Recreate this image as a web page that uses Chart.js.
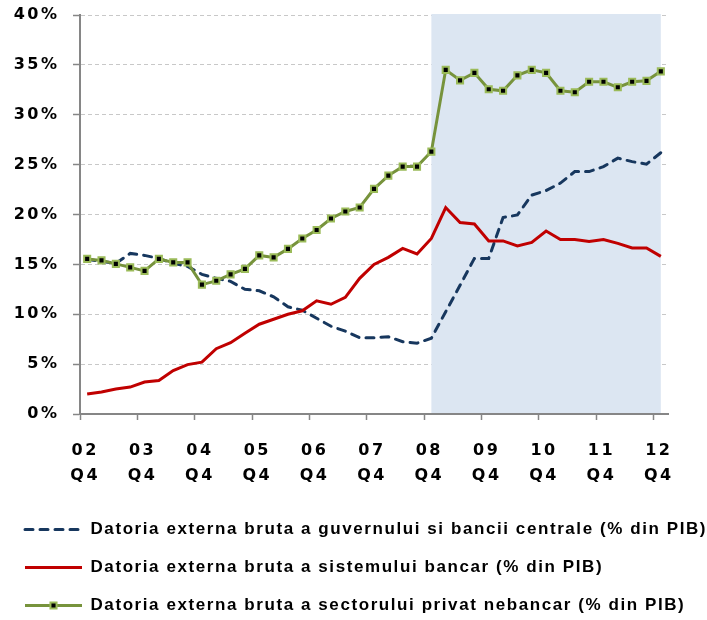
<!DOCTYPE html>
<html>
<head>
<meta charset="utf-8">
<script src="https://cdn.jsdelivr.net/npm/chart.js@4.4.0/dist/chart.umd.min.js"></script>
<style>
html,body{margin:0;padding:0;background:#ffffff;}
canvas{display:block;}
</style>
</head>
<body>
<canvas id="c" width="707" height="620"></canvas>
<script>
// ---- data ----
const quarters = [
  '02 Q4',
  '03 Q1','03 Q2','03 Q3','03 Q4',
  '04 Q1','04 Q2','04 Q3','04 Q4',
  '05 Q1','05 Q2','05 Q3','05 Q4',
  '06 Q1','06 Q2','06 Q3','06 Q4',
  '07 Q1','07 Q2','07 Q3','07 Q4',
  '08 Q1','08 Q2','08 Q3','08 Q4',
  '09 Q1','09 Q2','09 Q3','09 Q4',
  '10 Q1','10 Q2','10 Q3','10 Q4',
  '11 Q1','11 Q2','11 Q3','11 Q4',
  '12 Q1','12 Q2','12 Q3','12 Q4'
];

const govDebt = [
  15.5, 15.3, 15.1, 16.1, 15.9, 15.6, 15.1, 14.8, 14.0, 13.6,
  13.3, 12.5, 12.35, 11.75, 10.75, 10.4, 9.6, 8.8, 8.3, 7.65,
  7.65, 7.75, 7.25, 7.1, 7.6, 10.25, 12.9, 15.6, 15.6, 19.7,
  19.95, 21.95, 22.4, 23.15, 24.3, 24.3, 24.8, 25.65, 25.3, 25.05,
  26.2
];

const bankDebt = [
  2.0, 2.2, 2.5, 2.7, 3.2, 3.35, 4.35, 4.95, 5.2, 6.55,
  7.15, 8.1, 9.0, 9.5, 10.0, 10.35, 11.35, 11.0, 11.7, 13.6,
  15.0, 15.7, 16.6, 16.05, 17.6, 20.7, 19.2, 19.05, 17.35, 17.35,
  16.85, 17.2, 18.35, 17.5, 17.5, 17.3, 17.5, 17.1, 16.65, 16.65,
  15.8
];

const privateDebt = [
  15.55, 15.4, 15.05, 14.7, 14.35, 15.55, 15.2, 15.2, 12.97, 13.35,
  14.0, 14.55, 15.9, 15.7, 16.55, 17.6, 18.45, 19.6, 20.3, 20.7,
  22.57, 23.9, 24.8, 24.8, 26.3, 34.5, 33.45, 34.2, 32.55, 32.4,
  33.95, 34.5, 34.2, 32.4, 32.25, 33.3, 33.3, 32.75, 33.3, 33.4,
  34.35
];

const seriesNames = [
  'Datoria externa bruta a guvernului si bancii centrale (% din PIB)',
  'Datoria externa bruta a sistemului bancar (% din PIB)',
  'Datoria externa bruta a sectorului privat nebancar (% din PIB)'
];

const yMin = 0, yMax = 40, yStep = 5;
const shadeFrom = '08 Q4';
const shadeTo = '12 Q4';

// ---- plugins ----
const shadePlugin = {
  id: 'shade',
  beforeDatasetsDraw(chart) {
    const {ctx, chartArea: a, scales: {x}} = chart;
    const x0 = x.getPixelForValue(quarters.indexOf(shadeFrom));
    const x1 = x.getPixelForValue(quarters.indexOf(shadeTo));
    ctx.save();
    ctx.fillStyle = '#DCE6F2';
    ctx.fillRect(x0, a.top - 1, x1 - x0, a.bottom - a.top);
    ctx.restore();
  }
};

const LEGEND_SPACING = '1.58px';
const AXIS_SPACING = '2.5px';

const spacingPlugin = {
  id: 'spacing',
  beforeLayout(chart) { chart.ctx.letterSpacing = LEGEND_SPACING; },
  afterLayout(chart) {
    Object.values(chart.scales).forEach(s => {
      if (s._lsPatched) return;
      const orig = s.drawLabels;
      s.drawLabels = function (area) {
        const c = this.ctx;
        const prev = c.letterSpacing;
        c.letterSpacing = AXIS_SPACING;
        orig.call(this, area);
        c.letterSpacing = prev;
      };
      s._lsPatched = true;
    });
  },
  beforeDraw(chart) { chart.ctx.letterSpacing = LEGEND_SPACING; }
};

const legendMarkerPlugin = {
  id: 'legendMarker',
  afterDraw(chart) {
    const lg = chart.legend;
    if (!lg || !lg.legendHitBoxes || !lg.legendHitBoxes[2]) return;
    const hb = lg.legendHitBoxes[2];
    const bw = lg.options.labels.pointStyleWidth;
    const cx = hb.left + bw / 2;
    const cy = hb.top + hb.height / 2;
    const ctx = chart.ctx;
    ctx.save();
    ctx.fillStyle = '#000000';
    ctx.strokeStyle = '#9BBB59';
    ctx.lineWidth = 2;
    Chart.helpers.drawPoint(ctx, {pointStyle: 'rect', radius: 4.3, borderWidth: 2, rotation: 0}, cx, cy);
    ctx.restore();
  }
};

const xFont = {family: 'DejaVu Sans', weight: 'bold', size: 16, lineHeight: 25 / 16};
const yFont = {family: 'DejaVu Sans', weight: 'bold', size: 16};

new Chart(document.getElementById('c'), {
  type: 'line',
  data: {
    labels: quarters,
    datasets: [
      {
        label: seriesNames[0],
        data: govDebt,
        borderColor: '#17375E',
        backgroundColor: '#17375E',
        borderWidth: 3,
        borderDash: [8, 7],
        borderCapStyle: 'round',
        pointRadius: 0,
        tension: 0,
        order: 3
      },
      {
        label: seriesNames[1],
        data: bankDebt,
        borderColor: '#C00000',
        backgroundColor: '#C00000',
        borderWidth: 3,
        pointRadius: 0,
        tension: 0,
        order: 2
      },
      {
        label: seriesNames[2],
        data: privateDebt,
        borderColor: '#77933C',
        backgroundColor: '#77933C',
        borderWidth: 3,
        pointStyle: 'rect',
        pointRadius: 4.3,
        pointBackgroundColor: '#000000',
        pointBorderColor: '#9BBB59',
        pointBorderWidth: 2,
        tension: 0,
        order: 1
      }
    ]
  },
  options: {
    responsive: false,
    animation: false,
    events: [],
    layout: {padding: {top: 15, left: 4, right: 0, bottom: 0}},
    scales: {
      x: {
        type: 'category',
        offset: true,
        grid: {
          offset: true,
          drawOnChartArea: false,
          drawTicks: true,
          tickLength: 6,
          tickWidth: 1.5,
          tickColor: (c) => (c.index % 4 === 0 ? '#868686' : 'rgba(0,0,0,0)')
        },
        border: {display: true, color: '#868686', width: 2},
        ticks: {
          autoSkip: false,
          maxRotation: 0,
          minRotation: 0,
          padding: 18,
          labelOffset: -2,
          color: '#000000',
          font: xFont,
          callback: (v, i) => (i % 4 === 0 ? quarters[i].split(' ') : '')
        },
        afterFit(s) { s.height = 86; s.paddingLeft = 0; s.paddingRight = 0; }
      },
      y: {
        min: yMin,
        max: yMax,
        ticks: {
          stepSize: yStep,
          padding: 13.5,
          color: '#000000',
          font: yFont,
          callback: (v) => v + '%'
        },
        grid: {
          color: (c) => (c.tick && c.tick.value === 0 ? 'rgba(0,0,0,0)' : '#C8C8C8'),
          lineWidth: 1,
          tickColor: '#868686',
          tickLength: 7,
          tickWidth: 1.5,
          tickBorderDash: []
        },
        border: {display: true, color: '#868686', width: 2, dash: [4, 3]},
        afterFit(s) { s.width = 76; s.paddingTop = 0; s.paddingBottom = 0; }
      },
      yRightSpace: {
        type: 'linear',
        position: 'right',
        display: true,
        grid: {display: false, drawOnChartArea: false, drawTicks: false},
        border: {display: false},
        ticks: {display: false},
        afterFit(s) { s.width = 39; s.paddingTop = 0; s.paddingBottom = 0; }
      }
    },
    plugins: {
      tooltip: {enabled: false},
      title: {display: false},
      legend: {
        position: 'bottom',
        align: 'start',
        maxHeight: 120,
        labels: {
          usePointStyle: true,
          pointStyleWidth: 57,
          padding: 21,
          color: '#000000',
          font: {family: 'Liberation Sans', weight: 'bold', size: 17},
          sort: (a, b) => a.datasetIndex - b.datasetIndex,
          generateLabels(chart) {
            const items = Chart.defaults.plugins.legend.labels.generateLabels(chart);
            items.forEach(it => {
              const ds = chart.data.datasets[it.datasetIndex];
              it.pointStyle = 'line';
              it.lineWidth = ds.borderWidth;
              it.strokeStyle = ds.borderColor;
              it.fillStyle = ds.borderColor;
              it.lineDash = ds.borderDash || [];
              it.lineCap = ds.borderCapStyle || 'butt';
            });
            return items;
          }
        }
      }
    }
  },
  plugins: [spacingPlugin, shadePlugin, legendMarkerPlugin]
});
</script>
</body>
</html>
